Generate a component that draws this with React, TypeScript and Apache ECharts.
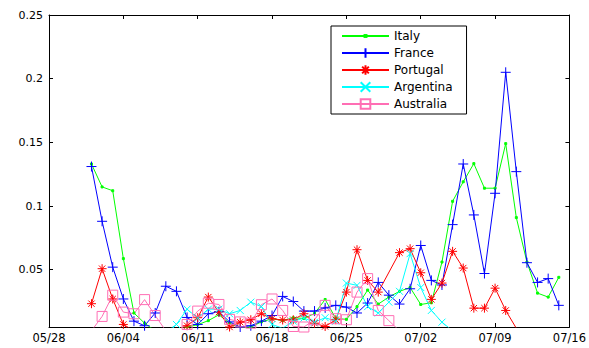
import React, { useEffect, useRef } from "react";
import * as echarts from "echarts";

// x is day index counted from 05/28
const xTickLabels = ["05/28", "06/04", "06/11", "06/18", "06/25", "07/02", "07/09", "07/16"];
const xMin = 0;
const xMax = 49;
const xStep = 7;
const yTicks = [0.05, 0.1, 0.15, 0.2, 0.25];
const yMin = 0.005;
const yMax = 0.25;

const seriesNames = ["Italy", "France", "Portugal", "Argentina", "Australia"];

const italyStart = 4;
const italyValues = [
  0.133, 0.115, 0.112, 0.0587, 0.016, 0.008, 0.002, 0.001, 0.003, 0.005,
  0.0068, 0.01, 0.0146, 0.008, 0.004, 0.005, 0.009, 0.0115, 0.01, 0.0123,
  0.0117, 0.0156, 0.0266, 0.0117, 0.011, 0.021, 0.034, 0.023, 0.0285, 0.033,
  0.036, 0.0227, 0.024, 0.056, 0.1037, 0.119, 0.1333, 0.114, 0.114, 0.149,
  0.0909, 0.056, 0.0316, 0.0285, 0.044,
];

const franceStart = 4;
const franceValues = [
  0.131, 0.088, 0.052, 0.027, 0.0096, 0.006, 0.016, 0.037, 0.033, 0.0125,
  0.007, 0.0154, 0.017, 0.009, 0.005, 0.006, 0.0096, 0.014, 0.029, 0.025,
  0.0175, 0.0175, 0.02, 0.022, 0.0206, 0.016, 0.0238, 0.04, 0.03, 0.023,
  0.035, 0.069, 0.0416, 0.038, 0.0854, 0.133, 0.093, 0.047, 0.11, 0.205,
  0.127, 0.0555, 0.04, 0.043, 0.022,
];

const portugalStart = 4;
const portugalValues = [
  0.0233, 0.0508, 0.027, 0.007, 0.002, 0.001, 0.001, 0.002, 0.003, 0.006,
  0.0123, 0.0285, 0.0167, 0.005, 0.0088, 0.0107, 0.0154, 0.0115, 0.0105, 0.0107,
  0.0154, 0.008, 0.0054, 0.0107, 0.0324, 0.0657, 0.0416, 0.0324, null, 0.0634,
  0.0665, 0.0476, 0.0267, 0.0395, 0.0644, 0.0513, 0.0198, 0.0198, 0.0355, 0.018,
  0.004,
];

const argentinaStart = 11;
const argentinaValues = [
  0.001, 0.007, 0.019, 0.012, 0.019, 0.019, 0.0154, 0.018, 0.0245, 0.021,
  0.007, 0.004, 0.0096, 0.012, 0.0088, 0.0123, 0.0096, 0.0395, 0.0377, 0.021,
  0.016, 0.0245, 0.033, 0.0626, 0.036, 0.018, 0.0088, 0.002,
];

const australiaStart = 4;
const australiaValues = [
  0.002, 0.0133, 0.03, 0.0167, 0.0154, 0.0265, 0.014, 0.002, 0.002, 0.007,
  0.0175, 0.0237, 0.0227, 0.011, 0.009, 0.008, 0.0225, 0.027, 0.018, 0.0054,
  0.005, 0.0107, 0.022, 0.0115, 0.0107, 0.0324, 0.043, 0.018, 0.01, 0.002,
];

const SYM = {
  dot: "path://M0,0M10,10M4,4L6,4L6,6L4,6Z",
  plus: "path://M0,5L10,5M5,0L5,10",
  star: "path://M0,5L10,5M5,0L5,10M1.5,1.5L8.5,8.5M1.5,8.5L8.5,1.5",
  cross: "path://M0,0L10,10M0,10L10,0",
  square: "path://M0,0L10,0L10,10L0,10Z",
};

const FONT = "DejaVu Sans";

export default function App() {
  const ref = useRef<HTMLDivElement>(null);
  useEffect(() => {
    const chart = echarts.init(ref.current!, null, { renderer: "svg" });
    const toPairs = (start: number, vals: (number | null)[]) =>
      vals.map((v, i) => [start + i, v]);
    const defs = [
      { name: seriesNames[0], color: "#00ff00", fill: "#00ff00", symbol: SYM.dot, size: 10, data: toPairs(italyStart, italyValues) },
      { name: seriesNames[1], color: "#0000ff", fill: "transparent", symbol: SYM.plus, size: 10, data: toPairs(franceStart, franceValues) },
      { name: seriesNames[2], color: "#ff0000", fill: "transparent", symbol: SYM.star, size: 9, data: toPairs(portugalStart, portugalValues) },
      { name: seriesNames[3], color: "#00ffff", fill: "transparent", symbol: SYM.cross, size: 7, data: toPairs(argentinaStart, argentinaValues) },
      { name: seriesNames[4], color: "#ff6eb4", fill: "transparent", symbol: SYM.square, size: 10, data: toPairs(australiaStart, australiaValues) },
    ];
    const axisLine = { show: true, onZero: false, lineStyle: { color: "#000", width: 1 } };
    const tick = { show: true, inside: true, length: 4, lineStyle: { color: "#000", width: 1 } };
    chart.setOption({
      animation: false,
      grid: { left: 49, right: 18, top: 15, bottom: 21, containLabel: false },
      xAxis: [
        {
          type: "value", min: xMin, max: xMax, interval: xStep, position: "bottom",
          axisLine, axisTick: tick, splitLine: { show: false },
          axisLabel: {
            formatter: (v: number) => xTickLabels[Math.round((v - xMin) / xStep)] ?? "",
            color: "#000", fontFamily: FONT, fontSize: 11.5, margin: 5,
            showMinLabel: true, showMaxLabel: true, hideOverlap: false,
          },
        },
        {
          type: "value", min: xMin, max: xMax, interval: xStep, position: "top",
          axisLine, axisTick: tick, splitLine: { show: false }, axisLabel: { show: false },
        },
      ],
      yAxis: [
        {
          type: "value", min: yMin, max: yMax, position: "left",
          axisLine, axisTick: { ...tick, customValues: yTicks }, splitLine: { show: false },
          axisLabel: {
            customValues: yTicks, formatter: (v: number) => String(v),
            color: "#000", fontFamily: FONT, fontSize: 11, margin: 6,
          },
        },
        {
          type: "value", min: yMin, max: yMax, position: "right",
          axisLine, axisTick: { ...tick, customValues: yTicks }, splitLine: { show: false },
          axisLabel: { show: false, customValues: yTicks },
        },
      ],
      legend: {
        orient: "vertical", left: 331, top: 26,
        itemWidth: 47, itemHeight: 12, itemGap: 5,
        padding: [4, 14, 4, 10],
        borderColor: "#000", borderWidth: 1, backgroundColor: "#fff",
        textStyle: { color: "#000", fontFamily: FONT, fontSize: 12 },
        selectedMode: false,
        data: seriesNames,
      },
      series: defs.map((d) => ({
        type: "line", name: d.name, data: d.data,
        xAxisIndex: 0, yAxisIndex: 0,
        symbol: d.symbol, symbolSize: d.size, showSymbol: true, showAllSymbol: true,
        connectNulls: true, clip: true,
        lineStyle: { color: d.color, width: 1 },
        itemStyle: { color: d.fill, borderColor: d.color, borderWidth: 1 },
        emphasis: { disabled: true },
      })),
    });
    return () => chart.dispose();
  }, []);
  return (
    <div
      ref={ref}
      style={{ position: "absolute", left: 0, top: 0, width: 589, height: 348, background: "#fff" }}
    />
  );
}
